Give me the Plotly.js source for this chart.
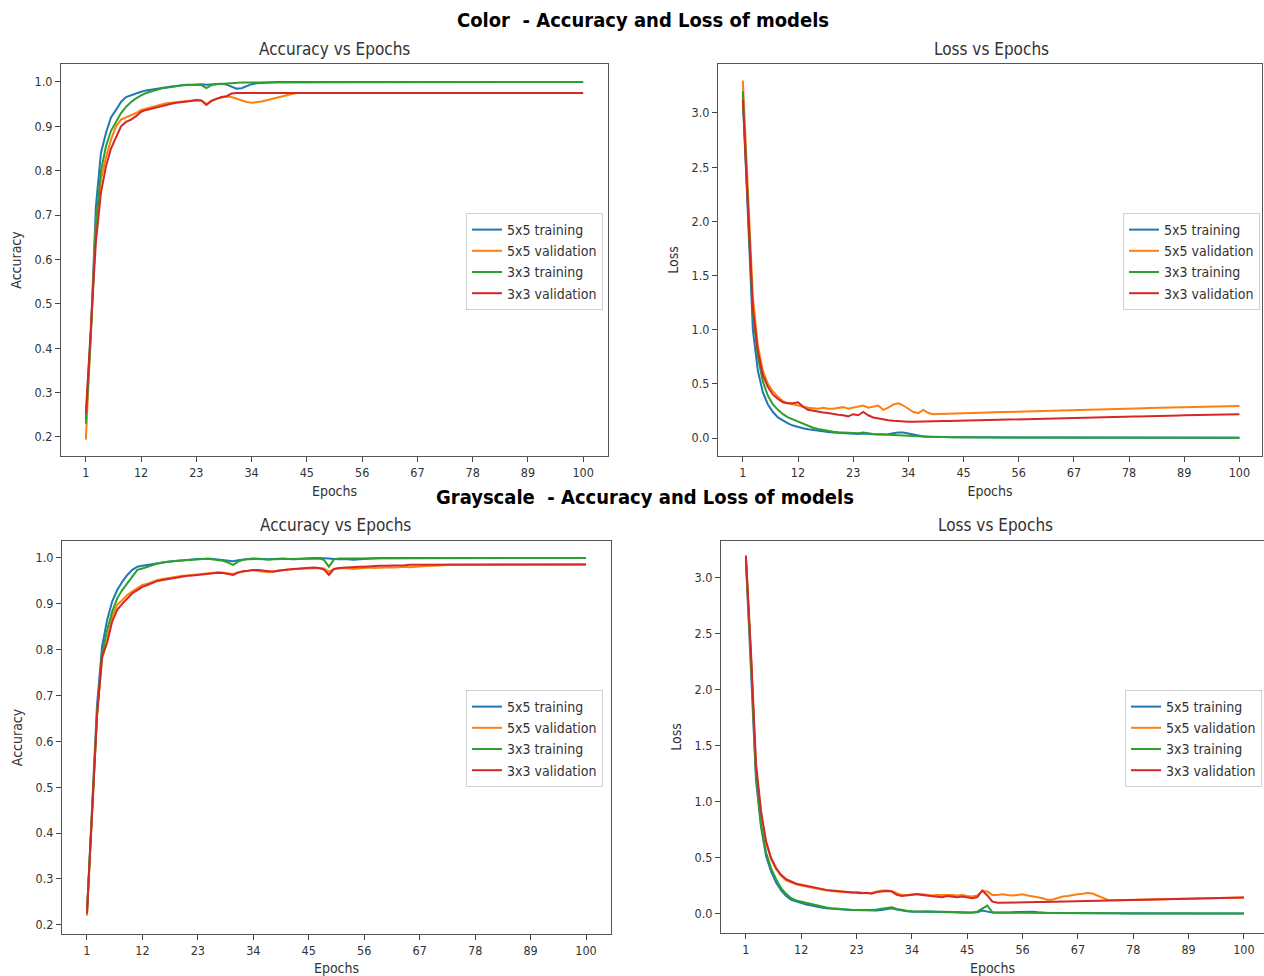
<!DOCTYPE html>
<html>
<head>
<meta charset="utf-8">
<script src="https://cdn.plot.ly/plotly-3.0.1.min.js"></script>
<style>html,body{margin:0;padding:0;background:#fff;}#chart{width:1264px;height:976px;}</style>
</head>
<body>
<div id="chart"></div>
<script>
// ---------- data ----------
const epochs = Array.from({length: 100}, (_, i) => i + 1);
const xTicks = [1, 12, 23, 34, 45, 56, 67, 78, 89, 100];
const accTicks = [0.2, 0.3, 0.4, 0.5, 0.6, 0.7, 0.8, 0.9, 1.0];
const lossTicks = [0.0, 0.5, 1.0, 1.5, 2.0, 2.5, 3.0];
const seriesNames = ['5x5 training', '5x5 validation', '3x3 training', '3x3 validation'];

// Color - accuracy
const colorAcc5x5Train = [
0.240,0.440,0.720,0.840,0.885,0.920,0.937,0.955,0.966,0.970,
0.975,0.978,0.981,0.983,0.985,0.987,0.989,0.990,0.991,0.993,
0.994,0.994,0.995,0.995,0.994,0.995,0.996,0.996,0.994,0.990,
0.985,0.986,0.990,0.995,0.997,0.998,0.999,0.999,1.000,1.000,
1.000,1.000,1.000,1.000,1.000,1.000,1.000,1.000,1.000,1.000,
1.000,1.000,1.000,1.000,1.000,1.000,1.000,1.000,1.000,1.000,
1.000,1.000,1.000,1.000,1.000,1.000,1.000,1.000,1.000,1.000,
1.000,1.000,1.000,1.000,1.000,1.000,1.000,1.000,1.000,1.000,
1.000,1.000,1.000,1.000,1.000,1.000,1.000,1.000,1.000,1.000,
1.000,1.000,1.000,1.000,1.000,1.000,1.000,1.000,1.000,1.000];
const colorAcc5x5Val = [
0.194,0.430,0.680,0.780,0.830,0.870,0.900,0.915,0.920,0.925,
0.930,0.937,0.940,0.944,0.947,0.950,0.952,0.953,0.954,0.955,
0.957,0.958,0.960,0.959,0.950,0.958,0.962,0.965,0.967,0.966,
0.962,0.958,0.955,0.953,0.954,0.956,0.959,0.962,0.965,0.968,
0.971,0.973,0.975,0.975,0.975,0.975,0.975,0.975,0.975,0.975,
0.975,0.975,0.975,0.975,0.975,0.975,0.975,0.975,0.975,0.975,
0.975,0.975,0.975,0.975,0.975,0.975,0.975,0.975,0.975,0.975,
0.975,0.975,0.975,0.975,0.975,0.975,0.975,0.975,0.975,0.975,
0.975,0.975,0.975,0.975,0.975,0.975,0.975,0.975,0.975,0.975,
0.975,0.975,0.975,0.975,0.975,0.975,0.975,0.975,0.975,0.975];
const colorAcc3x3Train = [
0.230,0.430,0.680,0.800,0.855,0.890,0.910,0.930,0.944,0.955,
0.963,0.970,0.975,0.979,0.982,0.985,0.987,0.989,0.990,0.992,
0.993,0.993,0.994,0.993,0.986,0.993,0.995,0.996,0.997,0.998,
0.998,0.999,0.999,0.999,1.000,1.000,1.000,1.000,1.000,1.000,
1.000,1.000,1.000,1.000,1.000,1.000,1.000,1.000,1.000,1.000,
1.000,1.000,1.000,1.000,1.000,1.000,1.000,1.000,1.000,1.000,
1.000,1.000,1.000,1.000,1.000,1.000,1.000,1.000,1.000,1.000,
1.000,1.000,1.000,1.000,1.000,1.000,1.000,1.000,1.000,1.000,
1.000,1.000,1.000,1.000,1.000,1.000,1.000,1.000,1.000,1.000,
1.000,1.000,1.000,1.000,1.000,1.000,1.000,1.000,1.000,1.000];
const colorAcc3x3Val = [
0.254,0.440,0.640,0.750,0.810,0.850,0.876,0.900,0.910,0.915,
0.923,0.933,0.937,0.940,0.943,0.946,0.949,0.951,0.953,0.954,
0.956,0.957,0.959,0.958,0.948,0.957,0.962,0.966,0.968,0.974,
0.975,0.975,0.975,0.975,0.975,0.975,0.975,0.975,0.975,0.975,
0.975,0.975,0.975,0.975,0.975,0.975,0.975,0.975,0.975,0.975,
0.975,0.975,0.975,0.975,0.975,0.975,0.975,0.975,0.975,0.975,
0.975,0.975,0.975,0.975,0.975,0.975,0.975,0.975,0.975,0.975,
0.975,0.975,0.975,0.975,0.975,0.975,0.975,0.975,0.975,0.975,
0.975,0.975,0.975,0.975,0.975,0.975,0.975,0.975,0.975,0.975,
0.975,0.975,0.975,0.975,0.975,0.975,0.975,0.975,0.975,0.975];

// Color - loss
const colorLoss5x5Train = [
3.15,2.05,1.00,0.62,0.42,0.31,0.24,0.19,0.16,0.135,
0.115,0.100,0.090,0.080,0.072,0.065,0.060,0.055,0.050,0.047,
0.044,0.042,0.040,0.038,0.042,0.036,0.034,0.032,0.030,0.035,
0.045,0.052,0.050,0.040,0.028,0.020,0.015,0.012,0.010,0.009,
0.008,0.007,0.007,0.006,0.006,0.006,0.005,0.005,0.005,0.005,
0.005,0.005,0.004,0.004,0.004,0.004,0.004,0.004,0.004,0.004,
0.004,0.004,0.003,0.003,0.003,0.003,0.003,0.003,0.003,0.003,
0.003,0.003,0.003,0.003,0.003,0.003,0.003,0.003,0.003,0.002,
0.002,0.002,0.002,0.002,0.002,0.002,0.002,0.002,0.002,0.002,
0.002,0.002,0.002,0.002,0.002,0.002,0.002,0.002,0.002,0.002];
const colorLoss5x5Val = [
3.30,2.30,1.30,0.85,0.62,0.50,0.43,0.38,0.34,0.32,
0.310,0.300,0.285,0.280,0.275,0.270,0.280,0.270,0.270,0.280,
0.285,0.270,0.280,0.290,0.300,0.280,0.290,0.300,0.260,0.280,
0.310,0.320,0.300,0.270,0.240,0.230,0.260,0.230,0.220,0.222,
0.224,0.225,0.226,0.228,0.229,0.230,0.232,0.233,0.234,0.236,
0.237,0.238,0.240,0.241,0.242,0.244,0.245,0.246,0.248,0.249,
0.250,0.251,0.253,0.254,0.255,0.256,0.258,0.259,0.260,0.261,
0.262,0.264,0.265,0.266,0.267,0.268,0.270,0.271,0.272,0.273,
0.274,0.276,0.277,0.278,0.279,0.281,0.282,0.283,0.284,0.286,
0.287,0.288,0.289,0.290,0.291,0.292,0.293,0.294,0.295,0.296];
const colorLoss3x3Train = [
3.20,2.20,1.15,0.75,0.52,0.39,0.31,0.26,0.22,0.19,
0.170,0.150,0.130,0.110,0.095,0.083,0.073,0.065,0.058,0.053,
0.049,0.046,0.044,0.043,0.050,0.042,0.038,0.035,0.032,0.030,
0.027,0.025,0.023,0.021,0.019,0.017,0.015,0.013,0.012,0.011,
0.010,0.009,0.008,0.008,0.007,0.007,0.006,0.006,0.006,0.005,
0.005,0.005,0.005,0.005,0.005,0.005,0.005,0.005,0.005,0.005,
0.004,0.004,0.004,0.004,0.004,0.004,0.004,0.004,0.004,0.004,
0.004,0.004,0.004,0.004,0.004,0.004,0.004,0.004,0.004,0.004,
0.003,0.003,0.003,0.003,0.003,0.003,0.003,0.003,0.003,0.003,
0.003,0.003,0.003,0.003,0.003,0.003,0.003,0.003,0.003,0.003];
const colorLoss3x3Val = [
3.12,2.20,1.20,0.80,0.58,0.47,0.40,0.36,0.33,0.32,
0.320,0.330,0.290,0.260,0.250,0.240,0.235,0.230,0.220,0.215,
0.210,0.200,0.220,0.210,0.240,0.210,0.190,0.180,0.170,0.165,
0.160,0.155,0.150,0.150,0.150,0.150,0.150,0.152,0.153,0.155,
0.156,0.157,0.158,0.159,0.160,0.161,0.162,0.163,0.164,0.165,
0.166,0.168,0.169,0.170,0.171,0.172,0.173,0.174,0.175,0.177,
0.178,0.179,0.180,0.181,0.182,0.183,0.185,0.186,0.187,0.188,
0.189,0.190,0.192,0.193,0.194,0.195,0.196,0.197,0.198,0.199,
0.201,0.202,0.203,0.204,0.205,0.206,0.207,0.208,0.209,0.210,
0.211,0.212,0.213,0.214,0.215,0.216,0.217,0.218,0.219,0.220];

// Grayscale - accuracy
const grayAcc5x5Train = [
0.225,0.460,0.680,0.807,0.865,0.905,0.930,0.948,0.963,0.974,
0.981,0.983,0.985,0.987,0.988,0.990,0.992,0.993,0.994,0.996,
0.997,0.997,0.998,0.998,0.999,0.998,0.997,0.996,0.994,0.993,
0.995,0.997,0.998,0.999,0.999,0.998,0.997,0.998,0.999,0.999,
0.998,0.997,0.998,0.999,0.999,1.000,1.000,1.000,0.999,0.998,
0.997,0.998,0.997,0.996,0.997,0.998,0.999,0.999,1.000,1.000,
1.000,1.000,1.000,1.000,1.000,1.000,1.000,1.000,1.000,1.000,
1.000,1.000,1.000,1.000,1.000,1.000,1.000,1.000,1.000,1.000,
1.000,1.000,1.000,1.000,1.000,1.000,1.000,1.000,1.000,1.000,
1.000,1.000,1.000,1.000,1.000,1.000,1.000,1.000,1.000,1.000];
const grayAcc5x5Val = [
0.220,0.455,0.660,0.780,0.820,0.872,0.898,0.908,0.919,0.927,
0.934,0.941,0.944,0.948,0.952,0.954,0.956,0.958,0.959,0.961,
0.962,0.963,0.965,0.966,0.967,0.968,0.969,0.968,0.966,0.965,
0.969,0.971,0.972,0.973,0.972,0.970,0.969,0.971,0.973,0.974,
0.975,0.976,0.976,0.977,0.977,0.978,0.978,0.977,0.970,0.976,
0.977,0.978,0.977,0.976,0.977,0.978,0.979,0.978,0.979,0.980,
0.980,0.979,0.980,0.981,0.980,0.981,0.982,0.982,0.983,0.983,
0.984,0.984,0.985,0.985,0.985,0.986,0.986,0.986,0.986,0.986,
0.986,0.986,0.986,0.986,0.986,0.986,0.986,0.986,0.986,0.986,
0.986,0.986,0.986,0.986,0.986,0.986,0.986,0.986,0.986,0.986];
const grayAcc3x3Train = [
0.225,0.450,0.660,0.790,0.843,0.883,0.912,0.930,0.945,0.960,
0.974,0.977,0.981,0.984,0.988,0.990,0.992,0.993,0.994,0.995,
0.996,0.997,0.997,0.998,0.998,0.997,0.996,0.994,0.990,0.985,
0.992,0.996,0.997,0.998,0.998,0.997,0.996,0.997,0.998,0.998,
0.998,0.998,0.999,0.999,0.999,0.999,0.999,0.996,0.981,0.997,
0.999,0.999,0.999,0.999,0.999,0.999,1.000,1.000,1.000,1.000,
1.000,1.000,1.000,1.000,1.000,1.000,1.000,1.000,1.000,1.000,
1.000,1.000,1.000,1.000,1.000,1.000,1.000,1.000,1.000,1.000,
1.000,1.000,1.000,1.000,1.000,1.000,1.000,1.000,1.000,1.000,
1.000,1.000,1.000,1.000,1.000,1.000,1.000,1.000,1.000,1.000];
const grayAcc3x3Val = [
0.225,0.455,0.655,0.785,0.815,0.861,0.887,0.900,0.912,0.923,
0.930,0.937,0.941,0.945,0.950,0.952,0.954,0.956,0.958,0.959,
0.961,0.962,0.963,0.965,0.966,0.967,0.968,0.967,0.965,0.963,
0.968,0.971,0.972,0.974,0.974,0.973,0.971,0.970,0.972,0.974,
0.975,0.976,0.977,0.977,0.978,0.979,0.978,0.975,0.963,0.976,
0.978,0.979,0.980,0.980,0.981,0.981,0.982,0.982,0.983,0.983,
0.983,0.984,0.984,0.984,0.985,0.985,0.985,0.985,0.985,0.986,
0.986,0.986,0.986,0.986,0.986,0.986,0.986,0.986,0.986,0.986,
0.986,0.986,0.986,0.986,0.986,0.986,0.986,0.986,0.986,0.986,
0.986,0.986,0.986,0.986,0.986,0.986,0.986,0.986,0.986,0.986];

// Grayscale - loss
const grayLoss5x5Train = [
3.16,2.20,1.20,0.78,0.52,0.38,0.28,0.21,0.16,0.125,
0.110,0.100,0.085,0.075,0.065,0.058,0.052,0.047,0.043,0.040,
0.037,0.035,0.033,0.031,0.030,0.028,0.030,0.035,0.045,0.050,
0.040,0.030,0.025,0.020,0.018,0.020,0.022,0.020,0.018,0.017,
0.015,0.014,0.013,0.012,0.011,0.012,0.015,0.030,0.020,0.012,
0.010,0.010,0.012,0.015,0.018,0.020,0.022,0.020,0.015,0.010,
0.009,0.009,0.008,0.008,0.008,0.007,0.007,0.007,0.007,0.006,
0.006,0.006,0.006,0.006,0.006,0.006,0.005,0.005,0.005,0.005,
0.005,0.005,0.005,0.005,0.005,0.005,0.005,0.005,0.005,0.005,
0.005,0.005,0.005,0.005,0.005,0.005,0.005,0.005,0.005,0.005];
const grayLoss5x5Val = [
3.15,2.30,1.30,0.90,0.64,0.49,0.40,0.34,0.30,0.28,
0.265,0.255,0.245,0.235,0.225,0.220,0.210,0.205,0.200,0.198,
0.195,0.190,0.195,0.190,0.185,0.190,0.200,0.210,0.210,0.205,
0.185,0.170,0.170,0.175,0.180,0.175,0.170,0.165,0.170,0.170,
0.175,0.170,0.165,0.170,0.160,0.155,0.165,0.205,0.200,0.170,
0.170,0.175,0.170,0.165,0.170,0.175,0.165,0.160,0.150,0.140,
0.125,0.130,0.145,0.155,0.160,0.170,0.175,0.180,0.190,0.180,
0.160,0.140,0.125,0.122,0.123,0.124,0.125,0.126,0.127,0.128,
0.129,0.130,0.131,0.132,0.133,0.134,0.135,0.136,0.137,0.138,
0.139,0.140,0.141,0.142,0.143,0.144,0.145,0.146,0.147,0.148];
const grayLoss3x3Train = [
3.18,2.30,1.25,0.80,0.55,0.41,0.31,0.23,0.18,0.14,
0.120,0.110,0.095,0.085,0.075,0.066,0.058,0.052,0.047,0.043,
0.040,0.038,0.036,0.034,0.033,0.035,0.040,0.048,0.058,0.060,
0.045,0.035,0.028,0.024,0.022,0.022,0.023,0.021,0.020,0.019,
0.017,0.016,0.015,0.014,0.013,0.013,0.020,0.045,0.075,0.015,
0.012,0.011,0.011,0.012,0.012,0.011,0.010,0.010,0.009,0.009,
0.009,0.008,0.008,0.008,0.008,0.007,0.007,0.007,0.007,0.006,
0.006,0.006,0.006,0.006,0.006,0.005,0.005,0.005,0.005,0.005,
0.005,0.005,0.005,0.005,0.005,0.005,0.004,0.004,0.004,0.004,
0.004,0.004,0.004,0.004,0.004,0.004,0.004,0.004,0.004,0.004];
const grayLoss3x3Val = [
3.20,2.35,1.35,0.92,0.65,0.50,0.41,0.35,0.31,0.29,
0.270,0.260,0.250,0.240,0.230,0.220,0.215,0.210,0.205,0.200,
0.200,0.195,0.190,0.185,0.190,0.180,0.195,0.200,0.205,0.200,
0.170,0.160,0.165,0.170,0.175,0.170,0.165,0.160,0.155,0.150,
0.160,0.155,0.150,0.155,0.145,0.140,0.150,0.210,0.165,0.110,
0.100,0.100,0.100,0.101,0.102,0.103,0.104,0.105,0.106,0.107,
0.108,0.109,0.110,0.111,0.112,0.113,0.114,0.115,0.116,0.117,
0.118,0.119,0.120,0.121,0.122,0.123,0.124,0.125,0.126,0.127,
0.128,0.129,0.130,0.131,0.132,0.133,0.134,0.135,0.136,0.137,
0.138,0.139,0.140,0.141,0.142,0.143,0.144,0.145,0.146,0.147];

// ---------- styling ----------
const seriesColors = ['#1f77b4', '#ff7f0e', '#2ca02c', '#d62728'];
const FONT = 'DejaVu Sans Condensed, DejaVu Sans, sans-serif';
const TXT = '#333333';

function panelTraces(seriesList, xa, ya, legendId) {
  return seriesList.map((vals, i) => ({
    type: 'scatter', mode: 'lines',
    x: epochs, y: vals,
    name: seriesNames[i],
    xaxis: xa, yaxis: ya,
    legend: legendId,
    line: {color: seriesColors[i], width: 2},
    hoverinfo: 'skip'
  }));
}

const data = [
  ...panelTraces([colorAcc5x5Train, colorAcc5x5Val, colorAcc3x3Train, colorAcc3x3Val], 'x', 'y', 'legend'),
  ...panelTraces([colorLoss5x5Train, colorLoss5x5Val, colorLoss3x3Train, colorLoss3x3Val], 'x2', 'y2', 'legend2'),
  ...panelTraces([grayAcc5x5Train, grayAcc5x5Val, grayAcc3x3Train, grayAcc3x3Val], 'x3', 'y3', 'legend3'),
  ...panelTraces([grayLoss5x5Train, grayLoss5x5Val, grayLoss3x3Train, grayLoss3x3Val], 'x4', 'y4', 'legend4')
];

const W = 1264, H = 976;
const px = v => v / W;
const py = v => 1 - v / H;

function xAxis(domain, range, anchor) {
  return {
    domain: domain, range: range, anchor: anchor,
    tickmode: 'array', tickvals: xTicks,
    ticks: 'outside', ticklen: 5, tickwidth: 1, tickcolor: '#444',
    showline: true, mirror: true, linecolor: '#555', linewidth: 1,
    showgrid: false, zeroline: false,
    tickfont: {family: FONT, size: 12.5, color: TXT},
    title: {text: 'Epochs', font: {family: FONT, size: 14, color: TXT}, standoff: 7}
  };
}
function yAxis(domain, range, anchor, ticks, label) {
  return {
    domain: domain, range: range, anchor: anchor,
    tickmode: 'array', tickvals: ticks, tickformat: '.1f',
    ticks: 'outside', ticklen: 5, tickwidth: 1, tickcolor: '#444',
    showline: true, mirror: true, linecolor: '#555', linewidth: 1,
    showgrid: false, zeroline: false,
    tickfont: {family: FONT, size: 12.5, color: TXT},
    title: {text: label, font: {family: FONT, size: 14, color: TXT}, standoff: 9}
  };
}
function legendBox(xRight, yTop) {
  return {
    x: xRight, y: yTop, xanchor: 'right', yanchor: 'top',
    xref: 'paper', yref: 'paper',
    bgcolor: 'rgba(255,255,255,0.85)', bordercolor: '#d0d0d0', borderwidth: 1,
    font: {family: FONT, size: 14, color: TXT},
    tracegroupgap: 0
  };
}
function ann(text, x, y, size, bold) {
  return {
    text: bold ? '<b>' + text + '</b>' : text,
    x: x, y: y, xref: 'paper', yref: 'paper',
    xanchor: 'center', yanchor: 'middle', showarrow: false,
    font: {family: FONT, size: size, color: bold ? '#000' : TXT}
  };
}

const layout = {
  width: W, height: H,
  margin: {l: 0, r: 0, t: 0, b: 0},
  paper_bgcolor: '#fff', plot_bgcolor: '#fff',
  font: {family: FONT, color: TXT},
  xaxis:  xAxis([px(61), px(608)], [-3.95, 104.95], 'y'),
  yaxis:  yAxis([py(456), py(64)], [0.157, 1.0405], 'x', accTicks, 'Accuracy'),
  xaxis2: xAxis([px(718), px(1262)], [-3.95, 104.5], 'y2'),
  yaxis2: yAxis([py(456), py(64)], [-0.166, 3.452], 'x2', lossTicks, 'Loss'),
  xaxis3: xAxis([px(62), px(611)], [-3.95, 104.95], 'y3'),
  yaxis3: yAxis([py(934), py(541)], [0.180, 1.037], 'x3', accTicks, 'Accuracy'),
  xaxis4: xAxis([px(721), 1], [-3.95, 104.0], 'y4'),
  yaxis4: yAxis([py(933), py(541)], [-0.170, 3.330], 'x4', lossTicks, 'Loss'),
  legend:  legendBox(px(603), py(213)),
  legend2: legendBox(px(1260), py(213)),
  legend3: legendBox(px(603), py(690)),
  legend4: legendBox(px(1262), py(690)),
  annotations: [
    ann('Color \u00a0- Accuracy and Loss of models', px(643), py(20), 20, true),
    ann('Accuracy vs Epochs', px(334), py(49), 17, false),
    ann('Loss vs Epochs', px(991), py(49), 17, false),
    ann('Grayscale \u00a0- Accuracy and Loss of models', px(645), py(497), 20, true),
    ann('Accuracy vs Epochs', px(335), py(525), 17, false),
    ann('Loss vs Epochs', px(995), py(525), 17, false)
  ],
  showlegend: true
};

Plotly.newPlot('chart', data, layout, {staticPlot: true, displayModeBar: false});
</script>
</body>
</html>
